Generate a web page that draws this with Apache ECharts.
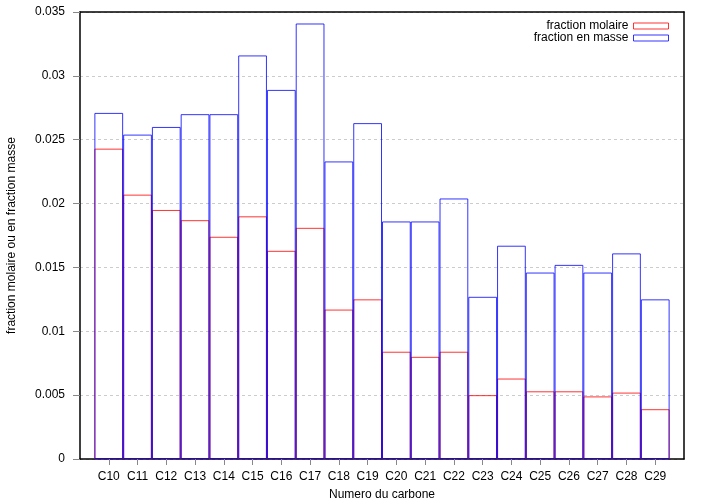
<!DOCTYPE html>
<html>
<head>
<meta charset="utf-8">
<script src="https://cdn.jsdelivr.net/npm/echarts@6/dist/echarts.min.js"></script>
<style>html,body{margin:0;padding:0;background:#fff}#c{width:705px;height:504px}</style>
</head>
<body>
<div id="c"></div>
<script>
const categories = ['C10','C11','C12','C13','C14','C15','C16','C17','C18','C19','C20','C21','C22','C23','C24','C25','C26','C27','C28','C29'];
const fractionMolaire = [0.0243,0.0207,0.0195,0.0187,0.0174,0.0190,0.0163,0.0181,0.0117,0.0125,0.0084,0.0080,0.0084,0.0050,0.0063,0.0053,0.0053,0.0049,0.0052,0.0039];
const fractionMasse = [0.0271,0.0254,0.0260,0.0270,0.0270,0.0316,0.0289,0.0341,0.0233,0.0263,0.0186,0.0186,0.0204,0.0127,0.0167,0.0146,0.0152,0.0146,0.0161,0.0125];
const yTicks = {min:0, max:0.035, interval:0.005};

const axisData = ['C9'].concat(categories, ['C30']);
const pad = arr => [null].concat(arr, [null]);
const font = 'Liberation Sans, Arial, sans-serif';
const last = axisData.length - 1;
const frameAxis = {show:true, onZero:false, lineStyle:{color:'#000', width:1.5}};

const chart = echarts.init(document.getElementById('c'), null, {renderer:'canvas'});
chart.setOption({
  backgroundColor:'#fff',
  animation:false,
  textStyle:{fontFamily:font},
  grid:{left:80, right:21, top:12, bottom:45, containLabel:false, outerBoundsMode:'none'},
  legend:{
    orient:'vertical', right:36, top:20, align:'right', itemWidth:35, itemHeight:6, itemGap:0, padding:0,
    textStyle:{fontSize:12, lineHeight:12, color:'#000', fontFamily:font},
    data:[
      {name:'fraction molaire', icon:'rect', itemStyle:{color:'rgba(0,0,0,0)', borderColor:'#ff0000', borderWidth:1}},
      {name:'fraction en masse', icon:'rect', itemStyle:{color:'rgba(0,0,0,0)', borderColor:'#0000ff', borderWidth:1}}
    ]
  },
  xAxis:[{
    type:'category', data:axisData, boundaryGap:false,
    name:'Numero du carbone', nameLocation:'middle', nameGap:30,
    nameTextStyle:{fontSize:12, color:'#000', fontFamily:font},
    axisLine:frameAxis,
    axisTick:{show:true, length:6, inside:false, interval:(i)=> i>0 && i<last, lineStyle:{color:'#888'}},
    axisLabel:{fontSize:12, color:'#000', margin:12, interval:0, formatter:(v,i)=> (i===0||i===last)?'':v},
    splitLine:{show:false}
  },{
    type:'category', data:axisData, boundaryGap:false, position:'top',
    axisLine:frameAxis, axisTick:{show:false}, axisLabel:{show:false}, splitLine:{show:false}
  }],
  yAxis:[{
    type:'value', min:yTicks.min, max:yTicks.max, interval:yTicks.interval,
    name:'fraction molaire ou en fraction masse', nameLocation:'middle', nameGap:62,
    nameTextStyle:{fontSize:12, color:'#000', fontFamily:font},
    axisLine:frameAxis,
    axisTick:{show:true, length:7, inside:false, lineStyle:{color:'#888'}},
    axisLabel:{fontSize:12, color:'#000', margin:15},
    splitLine:{show:true, lineStyle:{color:'#cccccc', type:[3,3], width:1}}
  },{
    type:'value', min:yTicks.min, max:yTicks.max, interval:yTicks.interval, position:'right',
    axisLine:frameAxis, axisTick:{show:false}, axisLabel:{show:false}, splitLine:{show:false}
  }],
  series:[
    {name:'fraction molaire', type:'bar', data:pad(fractionMolaire), barCategoryGap:0, barGap:'-100%',
      itemStyle:{color:'rgba(0,0,0,0)', borderColor:'#ff0000', borderWidth:1, opacity:0.8}},
    {name:'fraction en masse', type:'bar', data:pad(fractionMasse), barCategoryGap:0, barGap:'-100%',
      itemStyle:{color:'rgba(0,0,0,0)', borderColor:'#0000ff', borderWidth:1, opacity:0.8}}
  ]
});
</script>
</body>
</html>
